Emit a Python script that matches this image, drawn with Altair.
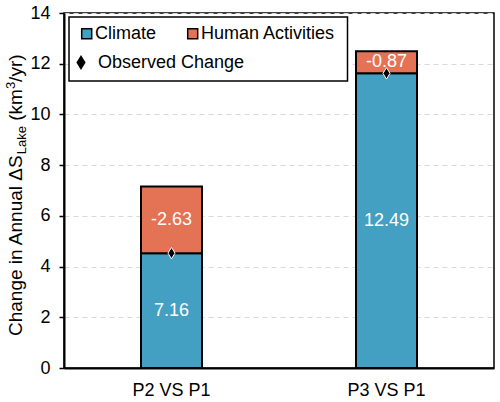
import altair as alt
import pandas as pd

# Attribution of the change in annual lake storage
categories = ["P2 VS P1", "P3 VS P1"]
climate = [7.16, 12.49]
human = [-2.63, -0.87]
y_ticks = [0, 2, 4, 6, 8, 10, 12, 14]

BLUE = "#43A0C2"
ORANGE = "#E47255"
FONT = "Liberation Sans"

# observed change = climate contribution + human contribution
observed = [round(c + h, 2) for c, h in zip(climate, human)]

seg = pd.DataFrame({
    "cat": categories * 2,
    "component": ["Climate"] * 2 + ["Human Activities"] * 2,
    "lo": [0.0, 0.0] + observed,
    "hi": observed + climate,
    "label": [f"{v:.2f}" for v in climate] + [f"{v:.2f}" for v in human],
})
seg["mid"] = (seg["lo"] + seg["hi"]) / 2
obs = pd.DataFrame({"cat": categories, "observed": observed})

x_enc = alt.X(
    "cat:N",
    title=None,
    scale=alt.Scale(domain=categories, paddingInner=0, paddingOuter=0),
    axis=alt.Axis(labelAngle=0, ticks=False, domainColor="black", domainWidth=2,
                  labelFontSize=18, labelPadding=13, labelColor="black", grid=False),
)
y_scale = alt.Scale(domain=[0, 14], nice=False)
y_axis = alt.Axis(values=y_ticks, grid=True, gridDash=[5, 4], gridColor="#d9d9d9",
                  gridWidth=1, domainColor="black", domainWidth=2, tickColor="black",
                  tickSize=5, tickWidth=1.5, labelFontSize=18, labelPadding=9,
                  labelColor="black")

bars = alt.Chart(seg).mark_bar(size=61, stroke="black", strokeWidth=2).encode(
    x=x_enc,
    y=alt.Y("lo:Q", title=None, scale=y_scale, axis=y_axis),
    y2="hi:Q",
    color=alt.Color("component:N", legend=None,
                    scale=alt.Scale(domain=["Climate", "Human Activities"],
                                    range=[BLUE, ORANGE])),
)

labels = alt.Chart(seg).mark_text(color="white", fontSize=18, baseline="middle",
                                  align="center").encode(
    x=alt.X("cat:N"),
    y=alt.Y("mid:Q"),
    text="label:N",
)

DIAMOND = "M0,-1L0.62,0L0,1L-0.62,0Z"
diamonds = alt.Chart(obs).mark_point(shape=DIAMOND, filled=True, fill="black",
                                     stroke="white", strokeWidth=1, size=130,
                                     opacity=1).encode(
    x=alt.X("cat:N"),
    y=alt.Y("observed:Q"),
)

one = pd.DataFrame({"k": [0]})

# legend box
legend_box = alt.Chart(one).mark_rect(fill="white", stroke="black", strokeWidth=1.5).encode(
    x=alt.value(5), x2=alt.value(283.5), y=alt.value(4), y2=alt.value(68)
)
sq_blue = alt.Chart(one).mark_square(size=100, fill=BLUE, stroke="black", strokeWidth=1.5,
                                     opacity=1).encode(x=alt.value(22.7), y=alt.value(20.7))
sq_orange = alt.Chart(one).mark_square(size=100, fill=ORANGE, stroke="black", strokeWidth=1.5,
                                       opacity=1).encode(x=alt.value(128.7), y=alt.value(20.7))
leg_diamond = alt.Chart(one).mark_point(shape=DIAMOND, filled=True, fill="black", size=220,
                                        opacity=1).encode(x=alt.value(17), y=alt.value(49.5))


def legend_text(txt, x, y):
    return alt.Chart(one).mark_text(text=txt, fontSize=18, align="left", baseline="middle",
                                    color="black").encode(x=alt.value(x), y=alt.value(y))


leg_texts = [
    legend_text("Climate", 31, 21),
    legend_text("Human Activities", 137, 21),
    legend_text("Observed Change", 34, 49.5),
]


# rotated y-axis title with subscript and superscript pieces
def title_piece(txt, x, y, size):
    return alt.Chart(one).mark_text(text=txt, fontSize=size, angle=270, align="left",
                                    baseline="alphabetic", color="black").encode(
        x=alt.value(x), y=alt.value(y))


title_parts = [
    title_piece("Change in Annual ΔS", -42, 323, 19),
    title_piece("Lake", -38, 141.3, 13),
    title_piece("(km", -42, 107.8, 19),
    title_piece("3", -49, 76.1, 13),
    title_piece("/yr)", -42, 68.9, 19),
]

chart = alt.layer(
    bars, labels, diamonds, legend_box, sq_blue, sq_orange, leg_diamond,
    *leg_texts, *title_parts,
).properties(
    width=430, height=355,
    padding={"left": 64, "top": 13, "right": 6, "bottom": 34},
    autosize="none",
).configure(font=FONT).configure_view(stroke="black", strokeWidth=1.5)

chart.save("out.html", embed_options={"renderer": "svg", "actions": False})
